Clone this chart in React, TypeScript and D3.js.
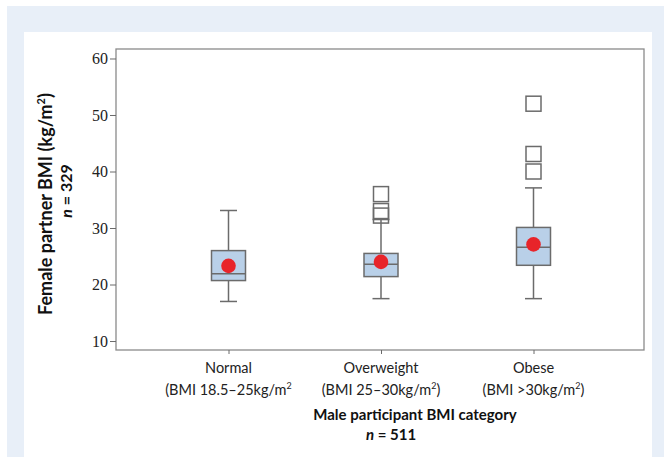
import React, { useEffect, useRef } from 'react';
import * as d3 from 'd3';

const categories = ['Normal', 'Overweight', 'Obese'];
const rangeLabels = ['(BMI 18.5–25kg/m', '(BMI 25–30kg/m', '(BMI >30kg/m'];
const rangeClose = ['', ')', ')'];
const whiskerLow = [17.0, 17.5, 17.5];
const q1 = [20.7, 21.4, 23.4];
const median = [21.9, 23.6, 26.6];
const q3 = [26.0, 25.5, 30.1];
const whiskerHigh = [33.1, 31.5, 37.1];
const means = [23.3, 24.0, 27.1];
const outliers = [[], [36.0, 33.0, 32.2], [52.0, 43.1, 40.0]];
const yTicks = [10, 20, 30, 40, 50, 60];

const App = () => {
    const svgRef = useRef<SVGSVGElement>(null);

    useEffect(() => {
        const svg = d3.select(svgRef.current);
        svg.selectAll('*').remove();
        const W = 664, H = 457;
        const frame = { left: 116, right: 644, top: 49, bottom: 350 };
        const sans = 'Lato, "Open Sans", sans-serif';

        // page backgrounds
        svg.append('rect').attr('x', 0).attr('y', 0).attr('width', W).attr('height', H).attr('fill', '#fff');
        svg.append('rect').attr('x', 7).attr('y', 6).attr('width', W - 7).attr('height', H - 6).attr('fill', '#e8eff8');
        svg.append('rect').attr('x', 24).attr('y', 32).attr('width', 628).attr('height', H - 32).attr('fill', '#fff');

        const y = d3.scaleLinear().domain([8.41, 61.68]).range([frame.bottom, frame.top]);
        const x = d3.scalePoint<string>().domain(categories).range([228.5, 533.5]);

        // frame
        svg.append('rect')
            .attr('x', frame.left).attr('y', frame.top)
            .attr('width', frame.right - frame.left).attr('height', frame.bottom - frame.top)
            .attr('fill', 'none').attr('stroke', '#8a8a8a').attr('stroke-width', 1.3);

        // y axis
        const yAxis = svg.append('g')
            .attr('transform', `translate(${frame.left},0)`)
            .call(d3.axisLeft(y).tickValues(yTicks).tickSize(6).tickPadding(2));
        yAxis.select('.domain').remove();
        yAxis.selectAll('line').attr('stroke', '#6a6a6a');
        yAxis.selectAll('text')
            .attr('font-family', '"Liberation Serif", "Times New Roman", serif')
            .attr('font-size', 16).attr('fill', '#222');

        // x axis ticks
        const xAxis = svg.append('g')
            .attr('transform', `translate(0,${frame.bottom})`)
            .call(d3.axisBottom(x).tickSize(4).tickFormat(() => ''));
        xAxis.select('.domain').remove();
        xAxis.selectAll('line').attr('stroke', '#6a6a6a');

        const boxW = 34, capW = 17, sq = 15;
        const grey = '#6b6b6b';

        categories.forEach((c, i) => {
            const cx = x(c)!;
            const g = svg.append('g');
            // whiskers
            g.append('line').attr('x1', cx).attr('x2', cx).attr('y1', y(whiskerHigh[i])).attr('y2', y(q3[i]))
                .attr('stroke', grey).attr('stroke-width', 1.5);
            g.append('line').attr('x1', cx).attr('x2', cx).attr('y1', y(q1[i])).attr('y2', y(whiskerLow[i]))
                .attr('stroke', grey).attr('stroke-width', 1.5);
            [whiskerHigh[i], whiskerLow[i]].forEach(v => {
                g.append('line').attr('x1', cx - capW / 2).attr('x2', cx + capW / 2)
                    .attr('y1', y(v)).attr('y2', y(v)).attr('stroke', grey).attr('stroke-width', 1.5);
            });
            // box
            g.append('rect')
                .attr('x', cx - boxW / 2).attr('y', y(q3[i]))
                .attr('width', boxW).attr('height', y(q1[i]) - y(q3[i]))
                .attr('fill', '#b9d0e8').attr('stroke', grey).attr('stroke-width', 1.5);
            g.append('line').attr('x1', cx - boxW / 2).attr('x2', cx + boxW / 2)
                .attr('y1', y(median[i])).attr('y2', y(median[i])).attr('stroke', grey).attr('stroke-width', 1.5);
            // outliers
            outliers[i].forEach(v => {
                g.append('rect')
                    .attr('x', cx - sq / 2).attr('y', y(v) - sq / 2)
                    .attr('width', sq).attr('height', sq)
                    .attr('fill', 'none').attr('stroke', grey).attr('stroke-width', 1.5);
            });
            // mean
            g.append('circle').attr('cx', cx).attr('cy', y(means[i])).attr('r', 7.3).attr('fill', '#e8242a');

            // category labels
            g.append('text').attr('x', cx).attr('y', 373).attr('text-anchor', 'middle')
                .attr('font-family', sans).attr('font-size', 14.5).attr('fill', '#222').text(c);
            const t = g.append('text').attr('x', cx).attr('y', 395).attr('text-anchor', 'middle')
                .attr('font-family', sans).attr('font-size', 14.5).attr('fill', '#222');
            t.append('tspan').text(rangeLabels[i]);
            t.append('tspan').attr('dy', -6).attr('font-size', 9).text('2');
            t.append('tspan').attr('dy', 6).text(rangeClose[i]);
        });

        // x title
        svg.append('text').attr('x', 415).attr('y', 420).attr('text-anchor', 'middle')
            .attr('font-family', sans).attr('font-size', 15).attr('font-weight', 'bold').attr('fill', '#111')
            .text('Male participant BMI category');
        const nx = svg.append('text').attr('x', 391).attr('y', 440).attr('text-anchor', 'middle')
            .attr('font-family', sans).attr('font-size', 15).attr('font-weight', 'bold').attr('fill', '#111');
        nx.append('tspan').attr('font-style', 'italic').text('n');
        nx.append('tspan').text(' = 511');

        // y title
        const yt = svg.append('g').attr('transform', 'rotate(-90)');
        const t1 = yt.append('text').attr('x', -204).attr('y', 52).attr('text-anchor', 'middle')
            .attr('font-family', sans).attr('font-size', 18).attr('font-weight', 'bold').attr('fill', '#111');
        t1.append('tspan').text('Female partner BMI (kg/m');
        t1.append('tspan').attr('dy', -7).attr('font-size', 11).text('2');
        t1.append('tspan').attr('dy', 7).text(')');
        const t2 = yt.append('text').attr('x', -191).attr('y', 72).attr('text-anchor', 'middle')
            .attr('font-family', sans).attr('font-size', 16).attr('font-weight', 'bold').attr('fill', '#111');
        t2.append('tspan').attr('font-style', 'italic').text('n');
        t2.append('tspan').text(' = 329');
    }, []);

    return (
        <svg ref={svgRef} width="664" height="457"
            style={{ position: 'absolute', left: 0, top: 0, display: 'block' }}></svg>
    );
};

export default App;
